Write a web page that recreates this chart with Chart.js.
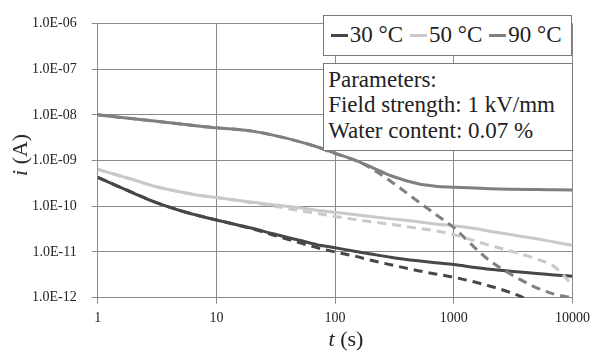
<!DOCTYPE html>
<html>
<head>
<meta charset="utf-8">
<script src="https://cdn.jsdelivr.net/npm/chart.js@4"></script>
<style>
  body{margin:0;background:#fff;font-family:"Liberation Serif","Times New Roman",serif;}
  #wrap{position:relative;width:596px;height:351px;}
  #c{position:absolute;left:0;top:0;}
  .box{position:absolute;background:#fff;border:1.5px solid #7a7a7a;box-sizing:border-box;color:#222;}
  #legend{left:322.7px;top:15px;width:249px;height:40.5px;font-size:23px;display:flex;align-items:center;padding-left:7px;}
  #legend .item{display:flex;align-items:center;margin-right:7px;white-space:nowrap;}
  #legend .sw{display:inline-block;width:17px;height:3px;margin-right:2px;}
  #params{left:322.7px;top:63.3px;width:250px;height:88px;font-size:23px;line-height:25.5px;padding:2.5px 0 0 4.5px;white-space:nowrap;}
  .ttl{position:absolute;font-size:22px;color:#222;white-space:nowrap;}
  #ytitle{left:20px;top:155px;transform:translate(-50%,-50%) rotate(-90deg);}
  #xtitle{left:346px;top:339px;transform:translate(-50%,-50%);}
</style>
</head>
<body>
<div id="wrap">
  <canvas id="c" width="596" height="351"></canvas>
  <div class="box" id="legend"></div>
  <div class="box" id="params">Parameters:<br>Field strength: 1 kV/mm<br>Water content: 0.07 %</div>
  <div class="ttl" id="ytitle"><i>i</i> (A)</div>
  <div class="ttl" id="xtitle"><i>t</i> (s)</div>
</div>
<script>
// time axis (s)
const T = [1,2,3,5,7,10,20,30,50,70,100,150,200,300,500,700,1000,1500,2000,3000,5000,7000,10000];
const X_TICKS = [1,10,100,1000,10000];
const Y_TICKS = [1e-12,1e-11,1e-10,1e-9,1e-8,1e-7,1e-6];

// current (A), solid = measured, dashed = fit
const I30 =  [4.3e-10,1.95e-10,1.25e-10,8e-11,6.3e-11,5e-11,3.3e-11,2.5e-11,1.8e-11,1.45e-11,1.24e-11,1.02e-11,9e-12,7.6e-12,6.4e-12,5.8e-12,5.3e-12,4.6e-12,4.2e-12,3.8e-12,3.4e-12,3.15e-12,2.95e-12];
const I30d = [4.3e-10,1.95e-10,1.25e-10,8e-11,6.3e-11,5e-11,3.2e-11,2.35e-11,1.6e-11,1.25e-11,1.0e-11,8e-12,6.6e-12,5.2e-12,3.9e-12,3.3e-12,2.8e-12,2.2e-12,1.8e-12,1.3e-12,7.5e-13,5e-13,3e-13];
const I50 =  [6.4e-10,3.8e-10,2.75e-10,2.05e-10,1.75e-10,1.55e-10,1.23e-10,1.08e-10,9.3e-11,8.2e-11,7.4e-11,6.5e-11,6e-11,5.3e-11,4.6e-11,4.1e-11,3.75e-11,3.25e-11,2.85e-11,2.4e-11,1.95e-11,1.65e-11,1.4e-11];
const I50d = [6.4e-10,3.8e-10,2.75e-10,2.05e-10,1.75e-10,1.55e-10,1.2e-10,1.02e-10,8e-11,7e-11,6e-11,5.1e-11,4.6e-11,4e-11,3.3e-11,2.9e-11,2.4e-11,1.75e-11,1.4e-11,1.05e-11,7e-12,4.8e-12,1.9e-12];
const I90 =  [1e-8,8.2e-9,7.3e-9,6.3e-9,5.7e-9,5.2e-9,4.4e-9,3.6e-9,2.6e-9,2e-9,1.45e-9,1.0e-9,7.3e-10,4.6e-10,3.1e-10,2.75e-10,2.62e-10,2.5e-10,2.42e-10,2.36e-10,2.32e-10,2.3e-10,2.28e-10];
const I90d = [1e-8,8.2e-9,7.3e-9,6.3e-9,5.7e-9,5.2e-9,4.4e-9,3.6e-9,2.6e-9,2e-9,1.42e-9,1.0e-9,6.8e-10,3.4e-10,1.27e-10,6.7e-11,3.4e-11,1.25e-11,6.5e-12,3.3e-12,1.65e-12,1.2e-12,1.0e-12];

const LABELS = ["30 °C","50 °C","90 °C"];
const COLORS = ["#474747","#c9c9c9","#808080"];

const pts = arr => T.map((t,i)=>({x:t,y:arr[i]}));
const line = (arr,k,dashed)=>({
  label: LABELS[k]+(dashed?" fit":""), data: pts(arr),
  borderColor: COLORS[k], borderWidth: 3, borderDash: dashed?[9,6]:[],
  pointRadius: 0, cubicInterpolationMode: "monotone", fill: false
});

// html legend
document.getElementById("legend").innerHTML = LABELS.map((l,k)=>
  `<span class="item"><span class="sw" style="background:${COLORS[k]}"></span>${l}</span>`).join("");

const FONT = {family:"'Liberation Serif', 'Times New Roman', serif", size:14};
const GRID = "#8a8a8a";

new Chart(document.getElementById("c"),{
  type:"line",
  data:{datasets:[
    line(I30d,0,true), line(I50d,1,true), line(I90d,2,true),
    line(I30,0,false), line(I50,1,false), line(I90,2,false)
  ]},
  options:{
    responsive:false, animation:false,
    layout:{padding:{top:10.5,right:19.3,left:0,bottom:0}},
    plugins:{legend:{display:false},tooltip:{enabled:false}},
    scales:{
      x:{type:"logarithmic",min:1,max:10000,
        afterBuildTicks:s=>{s.ticks=X_TICKS.map(v=>({value:v}));},
        afterFit:s=>{s.height=53.3;},
        ticks:{font:FONT,color:"#222",padding:6,maxRotation:0,callback:v=>String(v)},
        grid:{color:GRID,tickLength:6},border:{color:GRID}},
      y:{type:"logarithmic",min:1e-12,max:1e-6,
        afterBuildTicks:s=>{s.ticks=Y_TICKS.map(v=>({value:v}));},
        afterFit:s=>{s.width=97.7;},
        ticks:{font:FONT,color:"#222",padding:15,
          callback:v=>{const e=Math.round(Math.log10(v));return "1.0E-"+String(-e).padStart(2,"0");}},
        grid:{color:GRID,tickLength:6},border:{color:GRID}}
    }
  }
});
</script>
</body>
</html>
